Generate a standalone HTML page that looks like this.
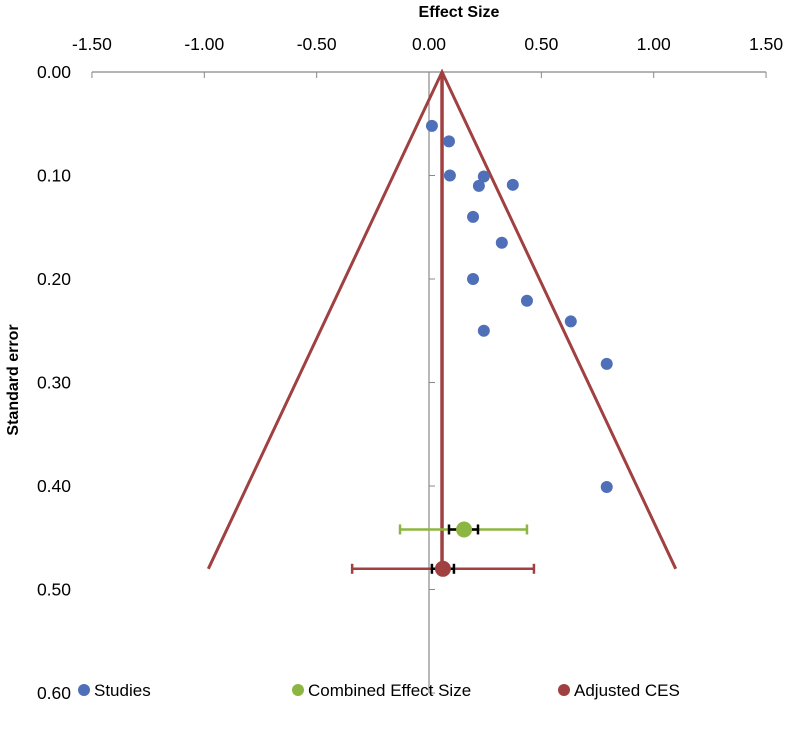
<!DOCTYPE html>
<html><head><meta charset="utf-8"><style>
body{margin:0;background:#fff}
svg text{font-family:"Liberation Sans",sans-serif}
</style></head><body>
<svg id="chart" width="788" height="737" xmlns="http://www.w3.org/2000/svg"></svg>
<script>
const xTicks=[-1.5,-1.0,-0.5,0,0.5,1.0,1.5];
const xTickLabels=["-1.50","-1.00","-0.50","0.00","0.50","1.00","1.50"];
const yTicks=[0,0.1,0.2,0.3,0.4,0.5,0.6];
const yTickLabels=["0.00","0.10","0.20","0.30","0.40","0.50","0.60"];
const studyES=[0.013,0.089,0.093,0.244,0.222,0.373,0.196,0.324,0.196,0.436,0.631,0.244,0.791,0.791];
const studySE=[0.052,0.067,0.100,0.101,0.110,0.109,0.140,0.165,0.200,0.221,0.241,0.250,0.282,0.401];
const funnelCenter=[0.058];
const funnelHalfWidth=[1.04];
const funnelBottomSE=[0.48];
const combined=[0.156,0.442];
const combinedCI=[-0.129,0.436];
const combinedInner=[0.089,0.218];
const adjusted=[0.062,0.480];
const adjustedCI=[-0.342,0.467];
const adjustedInner=[0.013,0.111];

const svg=document.getElementById('chart');
const NS='http://www.w3.org/2000/svg';
const X=v=>429+v*224.7;
const Y=v=>72+v*1035;
function mk(t,a){const e=document.createElementNS(NS,t);for(const k in a)e.setAttribute(k,a[k]);svg.appendChild(e);return e;}
let e;
e=mk('line',{x1:X(-1.5),x2:X(1.5),y1:Y(0),y2:Y(0),stroke:'#888','stroke-width':1.2});

e=mk('line',{x1:X(0),x2:X(0),y1:Y(0),y2:Y(0.6),stroke:'#888','stroke-width':1.2});

xTicks.forEach((v,i)=>{
 e=mk('line',{x1:X(v),x2:X(v),y1:Y(0),y2:Y(0)+6,stroke:'#888'});
 
 e=mk('text',{x:X(v),y:50,'text-anchor':'middle','font-size':17.5,fill:'#000'});e.textContent=xTickLabels[i];
 
});
yTicks.forEach((v,i)=>{
 e=mk('line',{x1:X(0),x2:X(0)+6,y1:Y(v),y2:Y(v),stroke:'#888'});
 
 e=mk('text',{x:71,y:Y(v)+6,'text-anchor':'end','font-size':17.5,fill:'#000'});e.textContent=yTickLabels[i];
 
});
e=mk('text',{x:459,y:17,'text-anchor':'middle','font-size':16,'font-weight':'bold'});e.textContent='Effect Size';

e=mk('text',{x:0,y:0,'text-anchor':'middle','font-size':16,'font-weight':'bold',transform:'translate(18,380) rotate(-90)'});e.textContent='Standard error';

const c=funnelCenter[0],h=funnelHalfWidth[0],b=funnelBottomSE[0];
e=mk('polyline',{points:`${X(c-h)},${Y(b)} ${X(c)},${Y(0)} ${X(c+h)},${Y(b)}`,fill:'none',stroke:'#a04040','stroke-width':3});

e=mk('line',{x1:X(c),x2:X(c),y1:Y(0),y2:Y(adjusted[1]),stroke:'#a04040','stroke-width':3.5});

studyES.forEach((v,i)=>{
 e=mk('circle',{cx:X(v),cy:Y(studySE[i]),r:6,fill:'#4f6fb8'});
 
});
function ci(pt,ciA,inA,col,name){
 const y=Y(pt[1]);
 e=mk('line',{x1:X(ciA[0]),x2:X(ciA[1]),y1:y,y2:y,stroke:col,'stroke-width':2.5});
 
 ciA.forEach(v=>{e=mk('line',{x1:X(v),x2:X(v),y1:y-5,y2:y+5,stroke:col,'stroke-width':2.5});
  });
 e=mk('line',{x1:X(inA[0]),x2:X(inA[1]),y1:y,y2:y,stroke:'#000','stroke-width':2.5});
 
 inA.forEach(v=>{e=mk('line',{x1:X(v),x2:X(v),y1:y-5,y2:y+5,stroke:'#000','stroke-width':2.5});
  });
 e=mk('circle',{cx:X(pt[0]),cy:y,r:8,fill:col});
 
}
ci(combined,combinedCI,combinedInner,'#8db541','combined');
ci(adjusted,adjustedCI,adjustedInner,'#a04040','adjusted');
[[84,'#4f6fb8','Studies'],[298,'#8db541','Combined Effect Size'],[564,'#a04040','Adjusted CES']].forEach(l=>{
 e=mk('circle',{cx:l[0],cy:690,r:6,fill:l[1]});
 
 e=mk('text',{x:l[0]+10,y:696,'font-size':17,fill:'#000'});e.textContent=l[2];
 
});
</script>
</body></html>
